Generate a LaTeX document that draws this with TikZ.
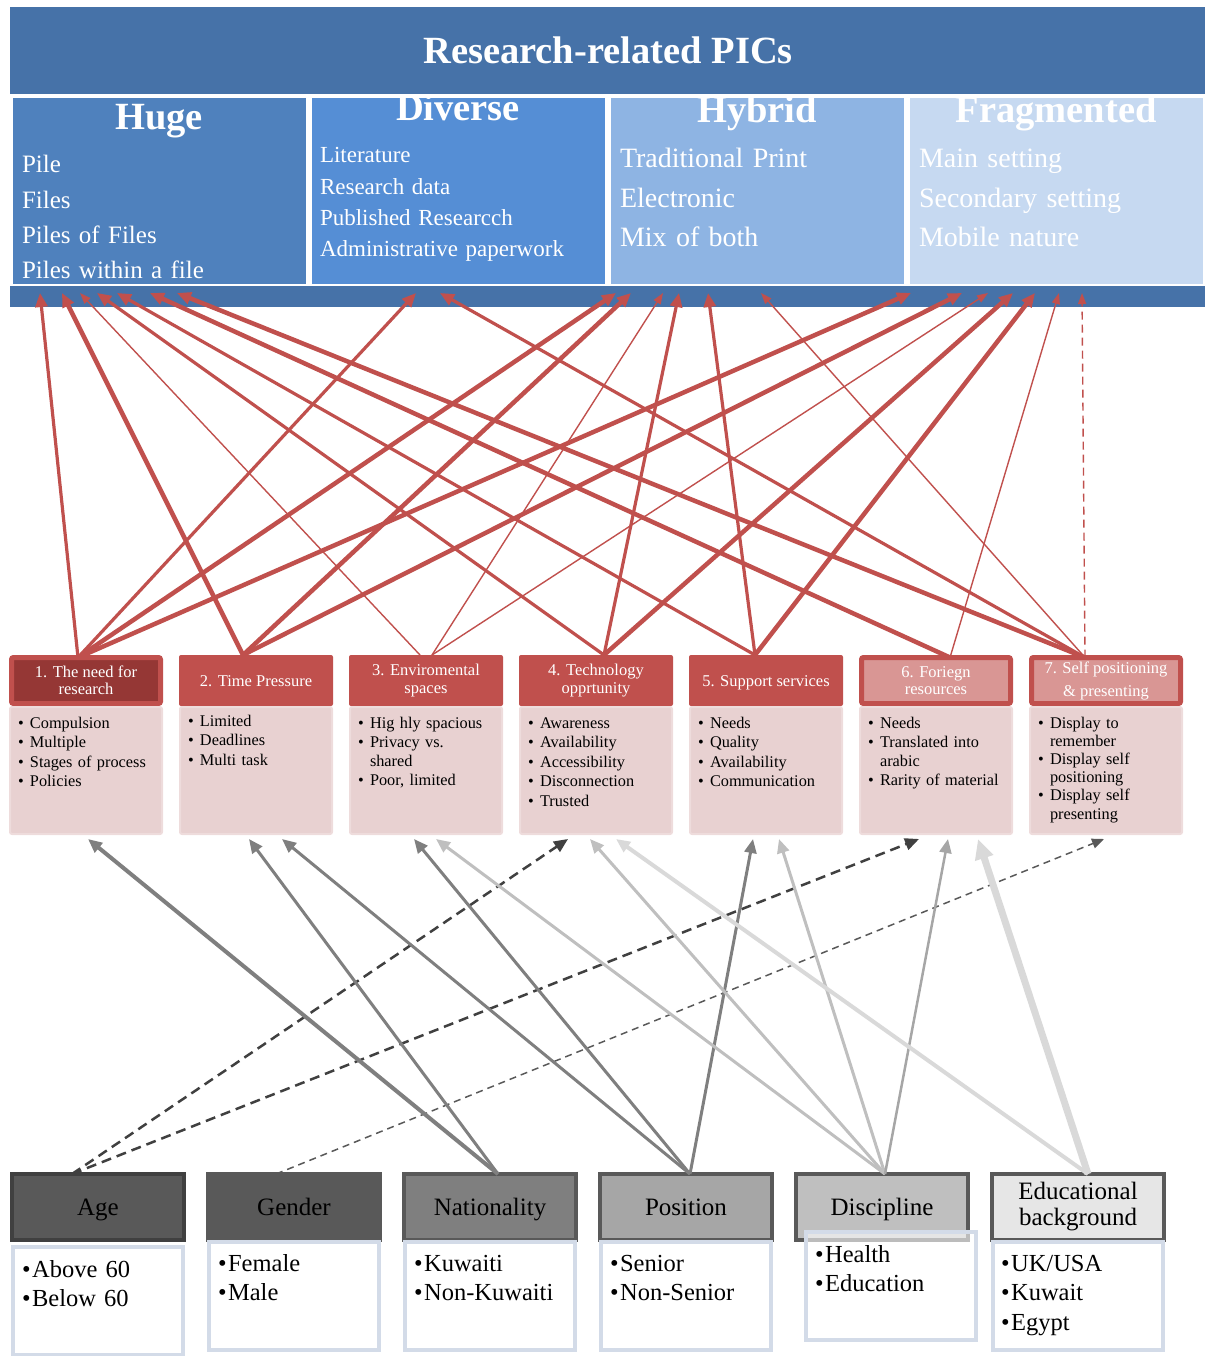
\documentclass[tikz,border=0pt]{standalone}
\usepackage{fontspec}
\setmainfont{Liberation Serif}
\usetikzlibrary{arrows.meta}

\definecolor{barblue}{HTML}{4672A8}
\definecolor{hugeblue}{HTML}{4F81BD}
\definecolor{divblue}{HTML}{558ED5}
\definecolor{hybblue}{HTML}{8EB4E3}
\definecolor{fragblue}{HTML}{C6D9F1}
\definecolor{redc}{HTML}{C0504D}
\definecolor{darkredc}{HTML}{953735}
\definecolor{pinkhead}{HTML}{D99694}
\definecolor{pinkbody}{HTML}{E8D1D1}
\definecolor{pinkedge}{HTML}{EEDCDC}
\definecolor{edgeblue}{HTML}{D3DBE8}
\definecolor{gA}{HTML}{404040}
\definecolor{gB}{HTML}{595959}
\definecolor{gC}{HTML}{7F7F7F}
\definecolor{gD}{HTML}{A6A6A6}
\definecolor{gE}{HTML}{BFBFBF}
\definecolor{gF}{HTML}{D9D9D9}
\definecolor{gG}{HTML}{E6E6E6}

\newcommand{\dotitem}{\makebox[12pt][l]{\textbullet}}
\newcommand{\dotgap}{\hspace*{12pt}}
\newcommand{\bigdot}{\textbullet\hspace{1.5pt}}

\begin{document}
\begin{tikzpicture}[x=1pt,y=-1pt,every node/.style={inner sep=0pt,outer sep=0pt},catbox/.style={minimum width=293,minimum height=186},cattitle/.style={anchor=base,text=white,font=\fontsize{38.5}{40}\selectfont\bfseries},catlist/.style={anchor=base west,text=white,text width=285,align=left},midhead/.style={fill=redc,text=white,minimum width=154,minimum height=51,align=center,rounded corners=2pt,font=\fontsize{16.5}{17.5}\selectfont},midframe/.style={draw=redc,line width=5pt,minimum width=149,minimum height=46},midbody/.style={fill=pinkbody,draw=pinkedge,line width=2pt,minimum width=152,minimum height=127,rounded corners=2pt},midlist/.style={anchor=base west,text width=145,align=left,font=\fontsize{16.3}{19.5}\selectfont},dhead/.style={draw=gB,line width=4pt,minimum width=172,minimum height=66,align=center,font=\fontsize{25}{26}\selectfont},oneline/.style={text height=17,text depth=1},dbody/.style={fill=white,draw=edgeblue,line width=4pt,minimum width=170,minimum height=108},dlist/.style={anchor=base west,text width=160,align=left,font=\fontsize{24.5}{29.5}\selectfont},ra/.style={draw=redc,-{Triangle[length=14pt,width=12pt]}},redthick/.style={line width=4.5pt},redmid/.style={line width=3.2pt},redthin/.style={line width=1.4pt,-{Triangle[length=11pt,width=8pt]}},ga/.style={-{Triangle[length=14pt,width=12pt]}},dashd/.style={dash pattern=on 10pt off 6pt}]
\useasboundingbox (0,0) rectangle (1211,1356);
\node[fill=barblue,minimum width=1195,minimum height=87] (topbar) at (607.5,50.5) {};
\node[text=white,font=\fontsize{38.5}{40}\selectfont\bfseries] (title) at (608,50) {Research-related PICs};
\node[catbox,fill=hugeblue] (huge) at (159,191) {};
\node[catbox,fill=divblue] (diverse) at (458,191) {};
\node[catbox,fill=hybblue] (hybrid) at (757,191) {};
\node[catbox,fill=fragblue] (frag) at (1056,191) {};
\begin{scope}
\clip (huge.north west) rectangle (huge.south east) (diverse.north west) rectangle (diverse.south east) (hybrid.north west) rectangle (hybrid.south east) (frag.north west) rectangle (frag.south east);
\node[cattitle] (hugeT) at (159,130) {Huge};
\node[cattitle] (diverseT) at (458,121) {Diverse};
\node[cattitle] (hybridT) at (757,123) {Hybrid};
\node[cattitle] (fragT) at (1056,123) {Fragmented};
\end{scope}
\node[catlist,font=\fontsize{25}{35.3}\selectfont] (hugeL) at (22,173) {Pile\\Files\\Piles of Files\\Piles within a file};
\node[catlist,font=\fontsize{23}{31.3}\selectfont] (diverseL) at (320,163) {Literature\\Research data\\Published Researcch\\Administrative paperwork};
\node[catlist,font=\fontsize{28}{39.5}\selectfont] (hybridL) at (620,168) {Traditional Print\\Electronic\\Mix of both};
\node[catlist,font=\fontsize{28}{39.5}\selectfont] (fragL) at (919,168) {Main setting\\Secondary setting\\Mobile nature};
\node[fill=barblue,minimum width=1195,minimum height=21] (bar) at (607.5,296.5) {};

\node[midhead,midframe,fill=darkredc] (h1) at (86,680.5) {1. The need for\\research};
\node[midhead,text height=12,text depth=1] (h2) at (256,680.5) {2. Time Pressure};
\node[midhead] (h3) at (426,680.5) {3. Enviromental\\spaces};
\node[midhead] (h4) at (596,680.5) {4. Technology\\opprtunity};
\node[midhead,text height=12,text depth=1] (h5) at (766,680.5) {5. Support services};
\node[midhead,midframe,fill=pinkhead] (h6) at (936,680.5) {6. Foriegn\\resources};
\node[midhead,midframe,fill=pinkhead,font=\fontsize{16.5}{23}\selectfont] (h7) at (1106,680.5) {7. Self positioning\\\& presenting};
\node[midbody] (b1) at (86,770.5) {};
\node[midbody] (b2) at (256,770.5) {};
\node[midbody] (b3) at (426,770.5) {};
\node[midbody] (b4) at (596,770.5) {};
\node[midbody] (b5) at (766,770.5) {};
\node[midbody] (b6) at (936,770.5) {};
\node[midbody] (b7) at (1106,770.5) {};
\node[midlist] (l1) at (18,728) {\dotitem Compulsion\\\dotitem Multiple\\\dotitem Stages of process\\\dotitem Policies};
\node[midlist] (l2) at (188,726) {\dotitem Limited\\\dotitem Deadlines\\\dotitem Multi task};
\node[midlist,font=\fontsize{16.3}{19}\selectfont] (l3) at (358,728) {\dotitem Hig hly spacious\\\dotitem Privacy vs.\\\dotgap shared\\\dotitem Poor, limited};
\node[midlist] (l4) at (528,728) {\dotitem Awareness\\\dotitem Availability\\\dotitem Accessibility\\\dotitem Disconnection\\\dotitem Trusted};
\node[midlist] (l5) at (698,728) {\dotitem Needs\\\dotitem Quality\\\dotitem Availability\\\dotitem Communication};
\node[midlist,font=\fontsize{16.3}{19}\selectfont] (l6) at (868,728) {\dotitem Needs\\\dotitem Translated into\\\dotgap arabic\\\dotitem Rarity of material};
\node[midlist,font=\fontsize{16.3}{18.2}\selectfont] (l7) at (1038,728) {\dotitem Display to\\\dotgap remember\\\dotitem Display self\\\dotgap positioning\\\dotitem Display self\\\dotgap presenting};

\node[dhead,oneline,draw=gA,fill=gB] (age) at (98,1207) {Age};
\node[dhead,oneline,fill=gB] (gender) at (294,1207) {Gender};
\node[dhead,oneline,fill=gC] (nation) at (490,1207) {Nationality};
\node[dhead,oneline,fill=gD] (position) at (686,1207) {Position};
\node[dhead,oneline,fill=gE] (discip) at (882,1207) {Discipline};
\node[dhead,fill=gG] (edu) at (1078,1207) {Educational\\background};
\node[dbody] (ageB) at (98,1301) {};
\node[dbody] (genderB) at (294,1296) {};
\node[dbody] (nationB) at (490,1296) {};
\node[dbody] (positionB) at (686,1296) {};
\node[dbody,fill opacity=0.6] (discipB) at (891,1286) {};
\node[dbody] (eduB) at (1078,1296) {};
\node[dlist] (ageL) at (22,1277) {\bigdot Above 60\\\bigdot Below 60};
\node[dlist] (genderL) at (218,1271) {\bigdot Female\\\bigdot Male};
\node[dlist] (nationL) at (414,1271) {\bigdot Kuwaiti\\\bigdot Non-Kuwaiti};
\node[dlist] (positionL) at (610,1271) {\bigdot Senior\\\bigdot Non-Senior};
\node[dlist] (discipL) at (815,1262) {\bigdot Health\\\bigdot Education};
\node[dlist] (eduL) at (1001,1271) {\bigdot UK/USA\\\bigdot Kuwait\\\bigdot Egypt};

\draw[ra,redmid] ([xshift=-8]h1.north) -- ([xshift=30,yshift=-7]bar.north west);
\draw[ra,redmid] ([xshift=-8]h1.north) -- ([xshift=406,yshift=-7]bar.north west);
\draw[ra,redthick] ([xshift=-8]h1.north) -- ([xshift=606,yshift=-7]bar.north west);
\draw[ra,redthick] ([xshift=-8]h1.north) -- ([xshift=901,yshift=-7]bar.north west);
\draw[ra,redthick] ([xshift=-13]h2.north) -- ([xshift=52,yshift=-7]bar.north west);
\draw[ra,redthick] ([xshift=-13]h2.north) -- ([xshift=621,yshift=-7]bar.north west);
\draw[ra,redthick] ([xshift=-13]h2.north) -- ([xshift=952,yshift=-7]bar.north west);
\draw[ra,redthin] ([xshift=-6]h3.north) -- ([xshift=70,yshift=-7]bar.north west);
\draw[ra,redthin] ([xshift=6]h3.north) -- ([xshift=653,yshift=-7]bar.north west);
\draw[ra,redthin] ([xshift=6]h3.north) -- ([xshift=978,yshift=-7]bar.north west);
\draw[ra,redmid] ([xshift=8]h4.north) -- ([xshift=87,yshift=-7]bar.north west);
\draw[ra,redmid] ([xshift=8]h4.north) -- ([xshift=669,yshift=-7]bar.north west);
\draw[ra,redthick] ([xshift=8]h4.north) -- ([xshift=1003,yshift=-7]bar.north west);
\draw[ra,redmid] ([xshift=-11]h5.north) -- ([xshift=107,yshift=-7]bar.north west);
\draw[ra,redmid] ([xshift=-11]h5.north) -- ([xshift=698,yshift=-7]bar.north west);
\draw[ra,redthick] ([xshift=-11]h5.north) -- ([xshift=1025,yshift=-7]bar.north west);
\draw[ra,redthick] ([xshift=14]h6.north) -- ([xshift=140,yshift=-7]bar.north west);
\draw[ra,redthin] ([xshift=14]h6.north) -- ([xshift=1049,yshift=-7]bar.north west);
\draw[ra,redthick] ([xshift=-21]h7.north) -- ([xshift=167,yshift=-7]bar.north west);
\draw[ra,redmid] ([xshift=-21]h7.north) -- ([xshift=430,yshift=-7]bar.north west);
\draw[ra,redthin] ([xshift=-21]h7.north) -- ([xshift=751,yshift=-7]bar.north west);
\draw[ra,redthin,dash pattern=on 8pt off 5pt] ([xshift=-21]h7.north) -- ([xshift=1072,yshift=-7]bar.north west);

\draw[ga,dashd,draw=gA,line width=2.5pt] ([xshift=-26]age.north) -- ([xshift=-28,yshift=-5]b4.south);
\draw[ga,dashd,draw=gA,line width=2.5pt] ([xshift=-26]age.north) -- ([xshift=-17,yshift=-5]b6.south);
\draw[ga,draw=gB,line width=1.5pt,dash pattern=on 7pt off 5pt,-{Triangle[length=12pt,width=10pt]}] ([xshift=-18]gender.north) -- ([xshift=-2,yshift=-5]b7.south);
\draw[ga,draw=gC,line width=4pt] ([xshift=8]nation.north) -- ([xshift=2,yshift=-5]b1.south);
\draw[ga,draw=gC,line width=3pt] ([xshift=8]nation.north) -- ([xshift=-7,yshift=-5]b2.south);
\draw[ga,draw=gC,line width=3pt] ([xshift=4]position.north) -- ([xshift=26,yshift=-5]b2.south);
\draw[ga,draw=gC,line width=3pt] ([xshift=4]position.north) -- ([xshift=-12,yshift=-5]b3.south);
\draw[ga,draw=gC,line width=3pt] ([xshift=4]position.north) -- ([xshift=-13,yshift=-5]b5.south);
\draw[ga,draw=gE,line width=3pt] ([xshift=3]discip.north) -- ([xshift=10,yshift=-5]b3.south);
\draw[ga,draw=gE,line width=3pt] ([xshift=3]discip.north) -- ([xshift=-6,yshift=-5]b4.south);
\draw[ga,draw=gE,line width=3pt] ([xshift=3]discip.north) -- ([xshift=13,yshift=-5]b5.south);
\draw[ga,draw=gD,line width=2.5pt] ([xshift=3]discip.north) -- ([xshift=12,yshift=-5]b6.south);
\draw[ga,draw=gF,line width=4pt] ([xshift=10]edu.north) -- ([xshift=20,yshift=-5]b4.south);
\draw[ga,draw=gF,line width=7pt,-{Triangle[length=20pt,width=18pt]}] ([xshift=10]edu.north) -- ([xshift=42,yshift=-5]b6.south);
\end{tikzpicture}
\end{document}
